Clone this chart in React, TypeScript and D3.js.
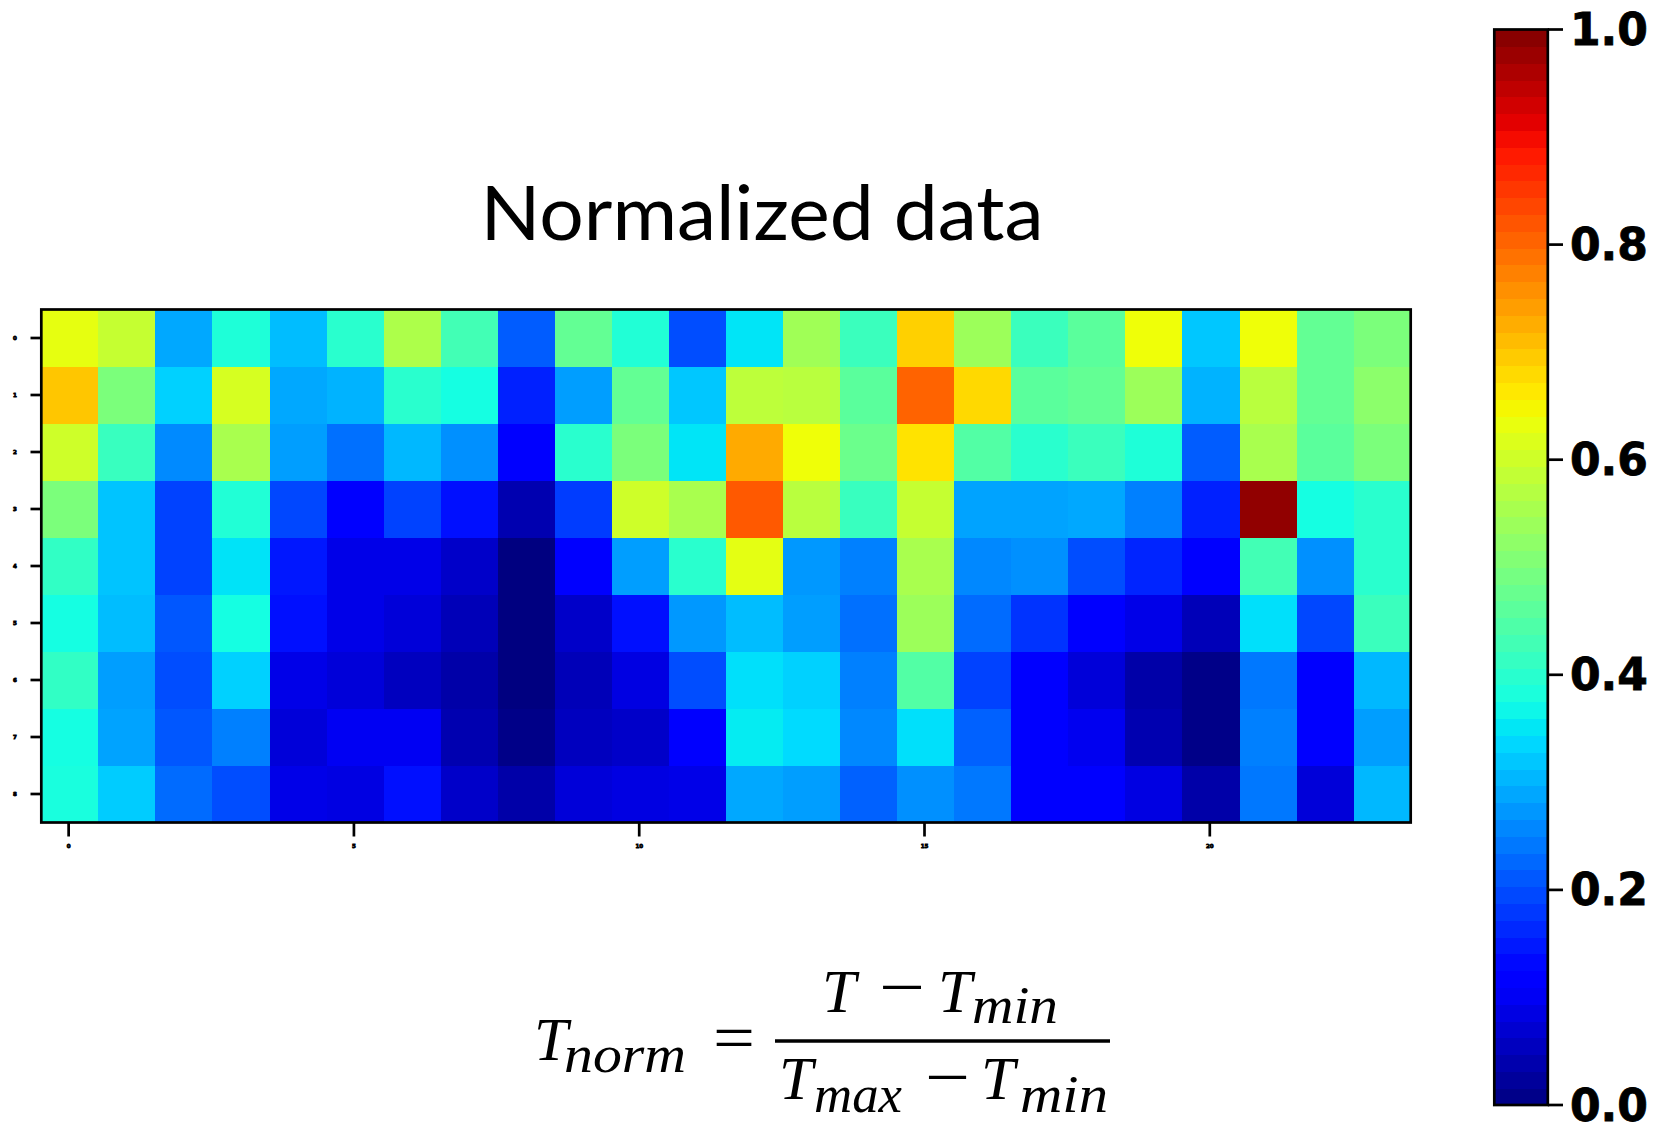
import React from 'react';
import * as d3 from 'd3';

// ---------- data (normalized values, rows top -> bottom, 24 columns) ----------
const rowLabels = ['0', '1', '2', '3', '4', '5', '6', '7', '8'];
const colTickValues = [0, 5, 10, 15, 20];
const colorbarTicks = [0, 0.2, 0.4, 0.6, 0.8, 1.0];

const row0 = [0.63, 0.59, 0.29, 0.387, 0.31, 0.40, 0.56, 0.43, 0.215, 0.47, 0.39, 0.20, 0.35, 0.545, 0.42, 0.69, 0.54, 0.42, 0.46, 0.64, 0.32, 0.64, 0.47, 0.50];
const row1 = [0.70, 0.50, 0.33, 0.61, 0.29, 0.30, 0.40, 0.375, 0.156, 0.28, 0.47, 0.32, 0.58, 0.575, 0.46, 0.805, 0.68, 0.46, 0.47, 0.54, 0.30, 0.575, 0.47, 0.52];
const row2 = [0.60, 0.418, 0.26, 0.555, 0.28, 0.235, 0.305, 0.266, 0.12, 0.40, 0.50, 0.35, 0.73, 0.64, 0.48, 0.67, 0.45, 0.40, 0.42, 0.387, 0.215, 0.555, 0.46, 0.50];
const row3 = [0.50, 0.317, 0.19, 0.39, 0.195, 0.115, 0.19, 0.14, 0.042, 0.184, 0.60, 0.555, 0.816, 0.575, 0.418, 0.59, 0.285, 0.285, 0.29, 0.25, 0.156, 0.985, 0.375, 0.40];
const row4 = [0.41, 0.317, 0.19, 0.348, 0.148, 0.09, 0.09, 0.063, 0.0, 0.115, 0.28, 0.40, 0.627, 0.274, 0.25, 0.555, 0.258, 0.266, 0.20, 0.16, 0.115, 0.43, 0.266, 0.40];
const row5 = [0.375, 0.31, 0.21, 0.375, 0.14, 0.09, 0.077, 0.049, 0.0, 0.063, 0.14, 0.274, 0.31, 0.28, 0.235, 0.54, 0.23, 0.175, 0.118, 0.09, 0.049, 0.345, 0.195, 0.42];
const row6 = [0.41, 0.28, 0.20, 0.33, 0.09, 0.077, 0.055, 0.035, 0.0, 0.049, 0.085, 0.20, 0.345, 0.33, 0.25, 0.45, 0.19, 0.115, 0.077, 0.035, 0.007, 0.243, 0.115, 0.305];
const row7 = [0.375, 0.285, 0.21, 0.25, 0.077, 0.10, 0.10, 0.042, 0.007, 0.055, 0.063, 0.115, 0.356, 0.34, 0.258, 0.345, 0.22, 0.115, 0.097, 0.042, 0.007, 0.25, 0.115, 0.28];
const row8 = [0.38, 0.325, 0.23, 0.20, 0.09, 0.085, 0.14, 0.063, 0.035, 0.077, 0.085, 0.09, 0.29, 0.28, 0.22, 0.266, 0.243, 0.115, 0.115, 0.085, 0.035, 0.243, 0.077, 0.305];
const values = [row0, row1, row2, row3, row4, row5, row6, row7, row8];

// ---------- jet colormap built from d3 linear scales ----------
const jetR = d3.scaleLinear().domain([0, 0.35, 0.66, 0.89, 1]).range([0, 0, 1, 1, 0.5]).clamp(true);
const jetG = d3.scaleLinear().domain([0, 0.125, 0.375, 0.64, 0.91, 1]).range([0, 0, 1, 1, 0, 0]).clamp(true);
const jetB = d3.scaleLinear().domain([0, 0.11, 0.34, 0.65, 1]).range([0.5, 1, 1, 0, 0]).clamp(true);
const jet = (v: number) => d3.rgb(jetR(v) * 255, jetG(v) * 255, jetB(v) * 255).formatHex();

const W = 1662;
const H = 1125;

export default function App() {
  const nCols = values[0].length;
  const nRows = values.length;
  const x = d3.scaleBand<number>().domain(d3.range(nCols)).range([41.3, 1410.7]);
  const y = d3.scaleBand<number>().domain(d3.range(nRows)).range([309.5, 822.5]);
  const cb = d3.scaleLinear().domain([0, 1]).range([1105, 29.5]);
  const nBands = 64;
  const bands = d3.range(nBands);
  const fmt = d3.format('.1f');
  const cbX0 = 1494.3;
  const cbX1 = 1547.8;
  const serif = "'Liberation Serif', 'DejaVu Serif', serif";

  return (
    <svg width={W} height={H} style={{ position: 'absolute', left: 0, top: 0, display: 'block', background: '#fff' }}>
      <rect x={0} y={0} width={W} height={H} fill="#fff" />
      {/* title */}
      <text x={762} y={240} textAnchor="middle" fontFamily="Lato, 'Open Sans', sans-serif" fontSize={75}
        textLength={563} lengthAdjust="spacingAndGlyphs" fill="#000">Normalized data</text>

      {/* heatmap cells */}
      <g shapeRendering="crispEdges">
        {values.map((row, r) =>
          row.map((v, c) => (
            <rect key={`${r}-${c}`} x={x(c)} y={y(r)} width={x.bandwidth() + 0.5} height={y.bandwidth() + 0.5} fill={jet(v)} />
          ))
        )}
      </g>
      <rect x={41.3} y={309.5} width={1410.7 - 41.3} height={822.5 - 309.5} fill="none" stroke="#000" strokeWidth={2.7} />

      {/* y ticks */}
      {rowLabels.map((lab, i) => {
        const cy = (y(i) as number) + y.bandwidth() / 2;
        return (
          <g key={`yt${i}`}>
            <line x1={30.5} x2={41.3} y1={cy} y2={cy} stroke="#000" strokeWidth={2.7} />
            <text x={16.8} y={cy} textAnchor="end" dominantBaseline="central" fontSize={5.5} fontWeight="900" fontFamily="'DejaVu Sans', sans-serif" fill="#000" stroke="#000" strokeWidth={0.8}>{lab}</text>
          </g>
        );
      })}
      {/* x ticks */}
      {colTickValues.map((c) => {
        const cx = (x(c) as number) + x.bandwidth() / 2 - 1.2;
        return (
          <g key={`xt${c}`}>
            <line x1={cx} x2={cx} y1={822.5} y2={836.5} stroke="#000" strokeWidth={2.7} />
            <text x={cx} y={846} textAnchor="middle" dominantBaseline="central" fontSize={5.5} fontWeight="900" fontFamily="'DejaVu Sans', sans-serif" fill="#000" stroke="#000" strokeWidth={0.8}>{String(c)}</text>
          </g>
        );
      })}

      {/* colorbar */}
      <g shapeRendering="crispEdges">
        {bands.map((i) => (
          <rect key={`cb${i}`} x={cbX0} width={cbX1 - cbX0} y={cb((i + 1) / nBands)} height={cb(i / nBands) - cb((i + 1) / nBands) + 0.6} fill={jet((i + 0.5) / nBands)} />
        ))}
      </g>
      <rect x={cbX0} y={cb(1)} width={cbX1 - cbX0} height={cb(0) - cb(1)} fill="none" stroke="#000" strokeWidth={2.7} />
      {colorbarTicks.map((t) => (
        <g key={`ct${t}`}>
          <line x1={cbX1} x2={1563} y1={cb(t)} y2={cb(t)} stroke="#000" strokeWidth={2.7} />
          <text x={1570} y={cb(t)} dominantBaseline="central" fontFamily="'DejaVu Sans', sans-serif" fontWeight="bold" fontSize={44} fill="#000" stroke="#000" strokeWidth={0.8}>{fmt(t)}</text>
        </g>
      ))}

      {/* formula */}
      <g fill="#000" fontFamily={serif}>
        <text x={534} y={1060} fontSize={61} fontStyle="italic">T</text>
        <text x={564} y={1072} fontSize={52} fontStyle="italic" textLength={122} lengthAdjust="spacingAndGlyphs">norm</text>
        <text x={713} y={1060} fontSize={66} textLength={42} lengthAdjust="spacingAndGlyphs">=</text>
        <line x1={775} x2={1110} y1={1041} y2={1041} stroke="#000" strokeWidth={3.6} />
        {/* numerator */}
        <text x={822} y={1012} fontSize={61} fontStyle="italic">T</text>
        <text x={879} y={1009} fontSize={66} textLength={46} lengthAdjust="spacingAndGlyphs">−</text>
        <text x={938} y={1012} fontSize={61} fontStyle="italic">T</text>
        <text x={972} y={1023} fontSize={52} fontStyle="italic" textLength={86} lengthAdjust="spacingAndGlyphs">min</text>
        {/* denominator */}
        <text x={779} y={1099} fontSize={61} fontStyle="italic">T</text>
        <text x={814} y={1112} fontSize={52} fontStyle="italic" textLength={88} lengthAdjust="spacingAndGlyphs">max</text>
        <text x={925} y={1099} fontSize={66} textLength={45} lengthAdjust="spacingAndGlyphs">−</text>
        <text x={981} y={1099} fontSize={61} fontStyle="italic">T</text>
        <text x={1020} y={1112} fontSize={52} fontStyle="italic" textLength={88} lengthAdjust="spacingAndGlyphs">min</text>
      </g>
    </svg>
  );
}
